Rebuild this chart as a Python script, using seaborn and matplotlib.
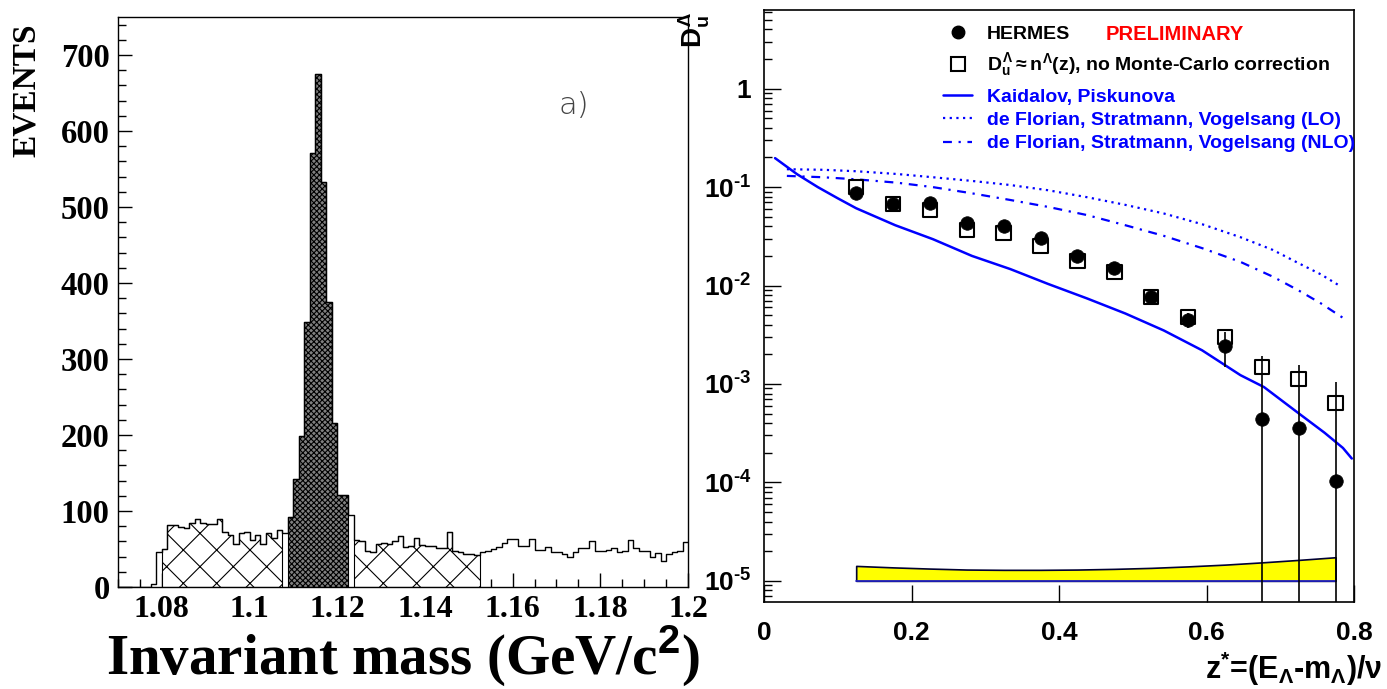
import numpy as np
import pandas as pd
import matplotlib
matplotlib.use("Agg")
import matplotlib.pyplot as plt
import seaborn as sns
from matplotlib.lines import Line2D
from matplotlib.ticker import MultipleLocator, LogLocator, NullFormatter

# ---------------- data ----------------
# left panel: invariant-mass histogram, 0.00125 GeV bins starting at 1.07
mass_bin_start = 1.07
mass_bin_width = 0.00125
events = [0, 0, 0, 0, 0, 0, 4, 46, 50, 82,
          81, 79, 78, 84, 89, 84, 83, 83, 90, 72,
          69, 57, 71, 73, 62, 69, 57, 71, 65, 75,
          71, 92, 142, 199, 349, 571, 675, 533, 375, 216,
          121, 121, 95, 62, 60, 47, 46, 57, 58, 57,
          60, 67, 52, 54, 65, 55, 54, 54, 51, 51,
          73, 48, 46, 44, 44, 42, 46, 48, 50, 53,
          58, 63, 63, 54, 54, 63, 49, 49, 52, 46,
          46, 44, 39, 46, 51, 51, 60, 48, 48, 49,
          51, 46, 47, 62, 51, 48, 47, 39, 45, 34,
          44, 46, 47, 59]
left_band_bins = (8, 30)      # bin index ranges [start, stop)
signal_bins = (31, 42)
right_band_bins = (43, 66)
left_xticks = [1.08, 1.10, 1.12, 1.14, 1.16, 1.18, 1.20]
left_xticklabels = ["1.08", "1.1", "1.12", "1.14", "1.16", "1.18", "1.2"]
left_yticks = [0, 100, 200, 300, 400, 500, 600, 700]
left_yticklabels = ["0", "100", "200", "300", "400", "500", "600", "700"]

# right panel: fragmentation function
z_points = [0.125, 0.175, 0.225, 0.275, 0.325, 0.375, 0.425,
            0.475, 0.525, 0.575, 0.625, 0.675, 0.725, 0.775]
hermes = [0.0869, 0.0672, 0.0689, 0.0431, 0.0402, 0.0304, 0.0199,
          0.0151, 0.00764, 0.00447, 0.00243, 4.4e-4, 3.6e-4, 1.04e-4]
hermes_err = [0.008, 0.004, 0.004, 0.003, 0.003, 0.002, 0.0015,
              0.0012, 0.0006, 0.0008, 0.00094, 0.00148, 0.0012, 0.00094]
no_mc = [0.100, 0.0672, 0.0584, 0.0366, 0.0341, 0.0252, 0.0177,
         0.0137, 0.00764, 0.00479, 0.0030, 0.00149, 0.00112, 6.4e-4]
syst_low = [1e-5] * 14
syst_high = [1.419e-5, 1.371e-5, 1.333e-5, 1.303e-5, 1.294e-5, 1.294e-5, 1.303e-5,
             1.324e-5, 1.355e-5, 1.403e-5, 1.462e-5, 1.541e-5, 1.633e-5, 1.738e-5]

kp_z = [0.015, 0.045, 0.073, 0.1, 0.125, 0.178, 0.229, 0.282, 0.334, 0.385, 0.438,
        0.49, 0.542, 0.594, 0.646, 0.678, 0.724, 0.76, 0.785, 0.797]
kp_val = [0.197, 0.135, 0.1, 0.077, 0.061, 0.041, 0.0296, 0.020, 0.0147, 0.0104, 0.0074,
          0.0052, 0.0035, 0.0022, 0.00123, 9.3e-4, 5.1e-4, 3.2e-4, 2.24e-4, 1.75e-4]
lo_z = [0.031, 0.08, 0.125, 0.18, 0.229, 0.28, 0.334, 0.385, 0.438, 0.49, 0.542,
        0.594, 0.646, 0.69, 0.724, 0.755, 0.783]
lo_val = [0.152, 0.150, 0.145, 0.136, 0.126, 0.116, 0.105, 0.093, 0.079, 0.066, 0.054,
          0.042, 0.031, 0.023, 0.017, 0.013, 0.0097]
nlo_z = [0.031, 0.08, 0.125, 0.18, 0.229, 0.28, 0.334, 0.385, 0.438, 0.49, 0.542,
         0.594, 0.646, 0.69, 0.724, 0.755, 0.785]
nlo_val = [0.13, 0.126, 0.12, 0.111, 0.1, 0.087, 0.074, 0.063, 0.052, 0.041, 0.032,
           0.024, 0.0174, 0.0123, 0.0090, 0.0066, 0.0047]

right_xticks = [0.0, 0.2, 0.4, 0.6, 0.8]
right_xticklabels = ["0", "0.2", "0.4", "0.6", "0.8"]
right_yticks = [1e-5, 1e-4, 1e-3, 1e-2, 1e-1, 1]
right_yticklabels = [r"$10^{\text{-5}}$", r"$10^{\text{-4}}$", r"$10^{\text{-3}}$",
                     r"$10^{\text{-2}}$", r"$10^{\text{-1}}$", "1"]

legend_labels_markers = ["HERMES", r"$D_u^{\Lambda}\approx n^{\Lambda}(z)$, no Monte-Carlo correction"]
legend_labels_curves = ["Kaidalov, Piskunova",
                        "de Florian, Stratmann, Vogelsang (LO)",
                        "de Florian, Stratmann, Vogelsang (NLO)"]

# ---------------- style ----------------
sns.set_theme(style="ticks")
plt.rcParams["font.family"] = ["Liberation Sans", "DejaVu Sans"]
plt.rcParams["mathtext.fontset"] = "custom"
plt.rcParams["mathtext.rm"] = "Liberation Sans:bold"
plt.rcParams["mathtext.it"] = "Liberation Sans:bold"
plt.rcParams["mathtext.bf"] = "Liberation Sans:bold"
plt.rcParams["hatch.color"] = "black"
plt.rcParams["hatch.linewidth"] = 0.8
for key in ["axes.edgecolor", "xtick.color", "ytick.color", "text.color",
            "axes.labelcolor", "xtick.labelcolor", "ytick.labelcolor"]:
    plt.rcParams[key] = "black"
plt.rcParams["axes.linewidth"] = 1.2

W, H = 1387, 689
fig = plt.figure(figsize=(W / 100, H / 100), dpi=100)
fig.patch.set_facecolor("white")

def ax_rect(l, r, t, b):
    return [l / W, 1 - b / H, (r - l) / W, (b - t) / H]

axL = fig.add_axes(ax_rect(118, 688, 17, 587))
axR = fig.add_axes(ax_rect(764, 1354, 10, 602))

# ---------------- left panel ----------------
edges = [mass_bin_start + mass_bin_width * k for k in range(len(events) + 1)]
hist_df = pd.DataFrame({
    "mass": [0.5 * (edges[k] + edges[k + 1]) for k in range(len(events))],
    "events": events,
})

def region(a, b, **kw):
    sns.histplot(data=hist_df.iloc[a:b], x="mass", weights="events",
                 bins=edges[a:b + 1], element="step", fill=True, alpha=1, ax=axL, **kw)

region(*left_band_bins, facecolor="white", edgecolor="black", hatch="x", linewidth=0.8)
region(*right_band_bins, facecolor="white", edgecolor="black", hatch="x", linewidth=0.8)
region(*signal_bins, facecolor="#808080", edgecolor="black", hatch="xxxxxx", linewidth=0.8)
sns.histplot(data=hist_df, x="mass", weights="events", bins=edges, element="step",
             fill=False, color="black", linewidth=1.0, ax=axL)

axL.set_xlim(1.07, 1.2)
axL.set_ylim(0, 750)
axL.set_xlabel("")
axL.set_ylabel("")
axL.xaxis.set_minor_locator(MultipleLocator(0.005))
axL.yaxis.set_minor_locator(MultipleLocator(20))
axL.set_xticks(left_xticks, left_xticklabels, fontfamily="Liberation Serif",
               fontweight="bold", fontsize=23)
axL.set_yticks(left_yticks, left_yticklabels, fontfamily="Liberation Serif",
               fontweight="bold", fontsize=23.5)
axL.tick_params(which="major", direction="in", length=10, width=1, pad=6)
axL.tick_params(axis="x", which="major", pad=6)
axL.tick_params(which="minor", direction="in", length=6, width=1)
for s in axL.spines.values():
    s.set_linewidth(1.0)
axL.text(0.80, 0.845, "a)", transform=axL.transAxes, fontsize=22,
         color="#444444", ha="center", va="center", fontfamily="DejaVu Sans",
         fontweight="light")

fig.text(26 / W, 1 - 90 / H, "EVENTS", rotation=90, fontfamily="Liberation Serif",
         fontweight="bold", fontsize=24, ha="center", va="center")
fig.text(403 / W, 1 - 675 / H, r"Invariant mass (GeV/c$^{2}$)", fontfamily="Liberation Serif",
         fontweight="bold", fontsize=41, ha="center", va="baseline")

# ---------------- right panel ----------------
axR.set_yscale("log")
axR.fill_between(z_points, syst_low, syst_high, facecolor="#ffff00",
                 edgecolor="#000033", linewidth=1.2, zorder=2)
sns.lineplot(x=z_points, y=syst_low, color="#2222cc", linewidth=1.2, ax=axR,
             estimator=None, sort=False, zorder=3)

sns.lineplot(x=kp_z, y=kp_val, color="#0000ff", linewidth=1.8, ax=axR,
             estimator=None, sort=False)
sns.lineplot(x=lo_z, y=lo_val, color="#0000ff", linewidth=1.6, ax=axR,
             estimator=None, sort=False, linestyle=(0, (1, 2)))
sns.lineplot(x=nlo_z, y=nlo_val, color="#0000ff", linewidth=1.6, ax=axR,
             estimator=None, sort=False, linestyle=(0, (4, 3, 1, 3)))

axR.errorbar(z_points, hermes, yerr=hermes_err, fmt="none", ecolor="black",
             elinewidth=1.2, capsize=0, zorder=4)
sns.scatterplot(x=z_points, y=no_mc, marker="s", s=110, color="black",
                facecolor="none", edgecolor="black", linewidth=1.5, ax=axR, zorder=5)
sns.scatterplot(x=z_points, y=hermes, marker="o", s=95, color="black",
                edgecolor="black", linewidth=0.5, ax=axR, zorder=6)

axR.set_xlim(0, 0.8)
axR.set_ylim(6.1e-6, 6.3)
axR.set_xlabel("")
axR.set_ylabel("")
axR.set_xticks(right_xticks, right_xticklabels, fontweight="bold", fontsize=19)
axR.set_yticks(right_yticks, right_yticklabels, fontweight="bold", fontsize=19)
axR.yaxis.set_minor_locator(LogLocator(base=10, subs=np.arange(2, 10), numticks=20))
axR.yaxis.set_minor_formatter(NullFormatter())
axR.tick_params(which="major", direction="in", length=12, width=1)
axR.tick_params(axis="x", which="major", pad=14)
axR.tick_params(axis="y", which="major", pad=9)
axR.tick_params(which="minor", direction="in", length=6, width=1)
for s in axR.spines.values():
    s.set_linewidth(1.2)

handles1 = [Line2D([], [], marker="o", ls="none", color="black", markersize=9),
            Line2D([], [], marker="s", ls="none", mfc="none", mec="black",
                   markersize=10, mew=1.5)]
leg1 = axR.legend(handles1, legend_labels_markers, loc="upper left",
                  bbox_to_anchor=((943 - 764) / 590, (602 - 25) / 592),
                  frameon=False, prop={"family": "Liberation Sans", "weight": "bold", "size": 14},
                  handlelength=1.5, handletextpad=0.75, labelspacing=0.45,
                  borderaxespad=0, borderpad=0)
axR.add_artist(leg1)
handles2 = [Line2D([], [], color="#0000ff", lw=1.8),
            Line2D([], [], color="#0000ff", lw=1.6, ls=(0, (1, 2))),
            Line2D([], [], color="#0000ff", lw=1.6, ls=(0, (4, 3, 1, 3)))]
leg2 = axR.legend(handles2, legend_labels_curves, loc="upper left",
                  bbox_to_anchor=((943 - 764) / 590, (602 - 88) / 592),
                  frameon=False, prop={"family": "Liberation Sans", "weight": "bold", "size": 14},
                  handlelength=1.5, handletextpad=0.75, labelspacing=0.3,
                  borderaxespad=0, borderpad=0, labelcolor="#0000ff")
axR.text((1106 - 764) / 590, (602 - 34) / 592, "PRELIMINARY", transform=axR.transAxes,
         color="#ff0000", fontweight="bold", fontsize=14.5, va="center", ha="left")

fig.text(694 / W, 1 - 30 / H, r"$D_u^{\Lambda}$", rotation=90, fontsize=20,
         ha="center", va="center")
fig.text(1382 / W, 1 - 679 / H, r"z$^{*}$=(E$_{\Lambda}$-m$_{\Lambda}$)/ν",
         fontsize=22, fontweight="bold", ha="right", va="baseline")

fig.savefig("out.png", dpi=100, facecolor="white")
